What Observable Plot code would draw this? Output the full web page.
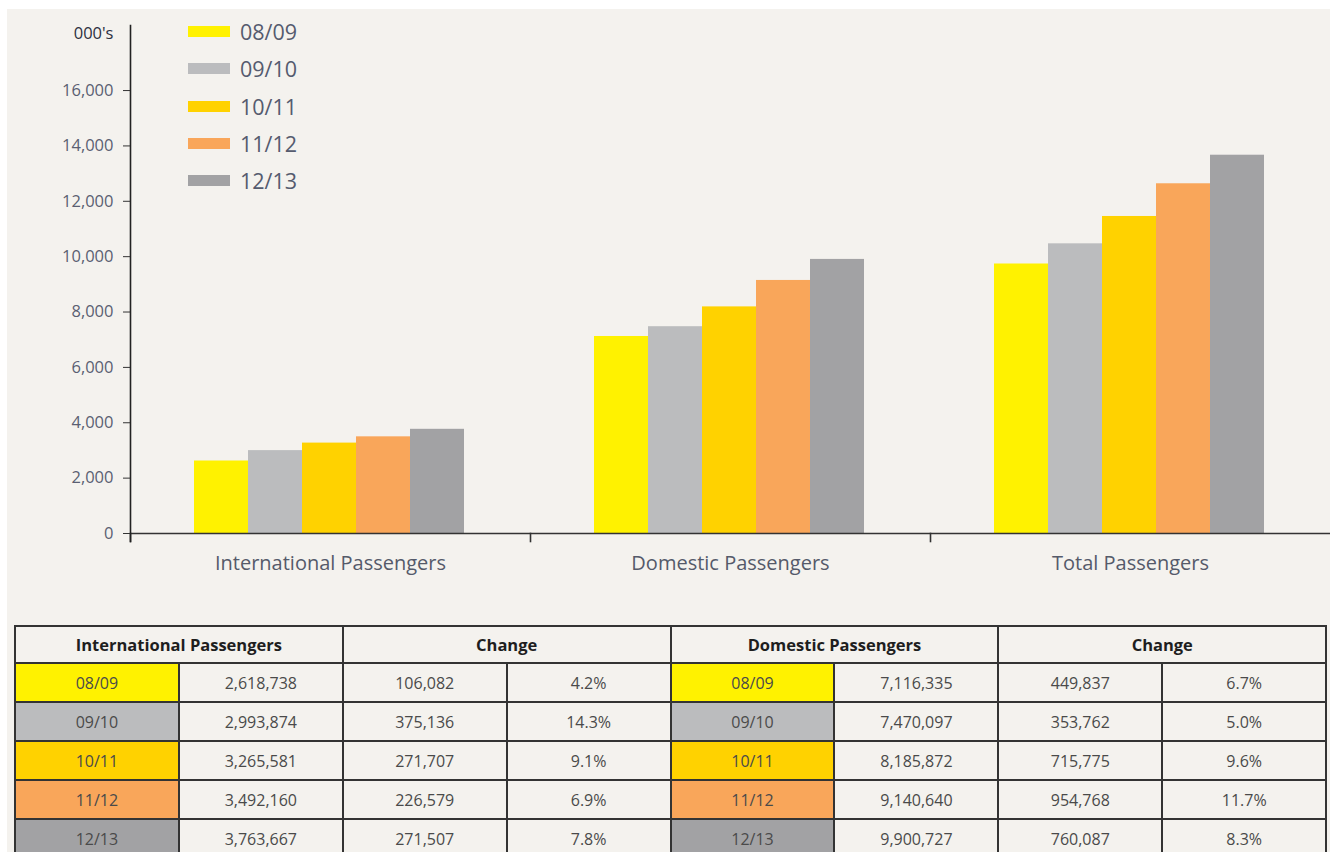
<!DOCTYPE html>
<html><head><meta charset="utf-8">
<script src="https://cdn.jsdelivr.net/npm/d3@7"></script>
<script src="https://cdn.jsdelivr.net/npm/@observablehq/plot@0.6"></script>
<style>
body{margin:0;background:#fff;font-family:"Open Sans",sans-serif;}
#page{position:absolute;left:7px;top:9px;width:1323px;height:843px;background:#f4f2ee;overflow:hidden;}
#chart{position:absolute;left:0;top:0;}
#legend{position:absolute;left:181px;top:4px;}
#legend .lg-swatch{height:37.3px;padding:0;margin:0;font-size:21.5px;color:#555b6e;font-family:"Open Sans",sans-serif;display:flex;align-items:center;}
#legend .lg-swatch svg{margin-right:10px;}
#legend .lg-swatches{margin:0;font-family:"Open Sans",sans-serif;}
table{position:absolute;left:7px;top:616px;border-collapse:collapse;table-layout:fixed;width:1311px;font-family:"Open Sans",sans-serif;}
td,th{border:2px solid #333;text-align:center;padding:0;}
th{height:35px;font-size:16.5px;font-weight:700;color:#1e1e1e;line-height:20px;}
td{height:37px;font-size:16px;color:#4a4a4a;}
</style></head>
<body>
<div id="page">
  <div id="chart"></div>
  <div id="legend"></div>
  <table id="tbl"></table>
</div>
<script>
const categories = ["International Passengers", "Domestic Passengers", "Total Passengers"];
const seasons = ["08/09", "09/10", "10/11", "11/12", "12/13"];
const colors = ["#fff200", "#bbbcbe", "#ffd200", "#f9a65a", "#a2a2a4"];
const intlPassengers = [2618738, 2993874, 3265581, 3492160, 3763667];
const intlChange = [106082, 375136, 271707, 226579, 271507];
const intlPct = [4.2, 14.3, 9.1, 6.9, 7.8];
const domPassengers = [7116335, 7470097, 8185872, 9140640, 9900727];
const domChange = [449837, 353762, 715775, 954768, 760087];
const domPct = [6.7, 5.0, 9.6, 11.7, 8.3];
const yTicks = [0, 2000, 4000, 6000, 8000, 10000, 12000, 14000, 16000];
const unitLabel = "000's";
const tableHeaders = ["International Passengers", "Change", "Domestic Passengers", "Change"];

// rows in thousands
const rows = [];
seasons.forEach((s, i) => {
  rows.push({category: categories[0], season: s, value: intlPassengers[i] / 1000});
  rows.push({category: categories[1], season: s, value: domPassengers[i] / 1000});
  rows.push({category: categories[2], season: s, value: (intlPassengers[i] + domPassengers[i]) / 1000});
});

const W = 1323, H = 600, mT = 16, mB = 76, mL = 123, mR = 0;
const yTop = 18350, unitY = 18050;

const chart = Plot.plot({
  width: W, height: H, marginTop: mT, marginBottom: mB, marginLeft: mL, marginRight: mR,
  style: {background: "transparent", fontFamily: "Open Sans, sans-serif", color: "#555b6e"},
  fx: {domain: categories, paddingInner: 0, paddingOuter: 0, label: null},
  x: {domain: seasons, paddingInner: 0, paddingOuter: 1.2, align: 0.49, axis: null},
  y: {domain: [0, yTop], axis: null},
  color: {domain: seasons, range: colors},
  marks: [
    Plot.barY(rows, {fx: "category", x: "season", y: "value", fill: "season"}),
    Plot.ruleY([0], {stroke: "#333", strokeWidth: 1.6}),
    Plot.frame({anchor: "left", insetTop: H - mT - mB, insetBottom: -8, stroke: "#333", strokeWidth: 1.6}),
    Plot.frame({anchor: "left", insetBottom: -8, facetAnchor: "left", stroke: "#222", strokeWidth: 1.6}),
    Plot.axisY({ticks: yTicks, tickFormat: d3.format(","), tickSize: 7, tickPadding: 10, fontSize: 16.5, label: null, stroke: "#333", fill: "#5a5f72"}),
    Plot.axisFx({anchor: "bottom", tickSize: 0, tickPadding: 22, fontSize: 20, label: null, fill: "#555a6a"}),
    Plot.text([unitLabel], {text: d => d, y: () => unitY, frameAnchor: "left", dx: -17, textAnchor: "end", facetAnchor: "left", fontSize: 16.5, fill: "#2d3040"})
  ]
});
document.getElementById("chart").appendChild(chart);

const legend = chart.legend("color", {legend: "swatches", columns: 1, swatchWidth: 42, swatchHeight: 11, className: "lg"});
document.getElementById("legend").appendChild(legend);

// table
const fmt = d3.format(",");
const tbl = document.getElementById("tbl");
const colgroup = document.createElement("colgroup");
for (let i = 0; i < 8; i++) { const c = document.createElement("col"); c.style.width = "163.9px"; colgroup.appendChild(c); }
tbl.appendChild(colgroup);
const hr = document.createElement("tr");
tableHeaders.forEach(h => { const th = document.createElement("th"); th.colSpan = 2; th.textContent = h; hr.appendChild(th); });
tbl.appendChild(hr);
seasons.forEach((s, i) => {
  const tr = document.createElement("tr");
  const cells = [
    [s, colors[i]], [fmt(intlPassengers[i])], [fmt(intlChange[i])], [intlPct[i].toFixed(1) + "%"],
    [s, colors[i]], [fmt(domPassengers[i])], [fmt(domChange[i])], [domPct[i].toFixed(1) + "%"]
  ];
  cells.forEach(([t, bg]) => { const td = document.createElement("td"); td.textContent = t; if (bg) td.style.background = bg; tr.appendChild(td); });
  tbl.appendChild(tr);
});
</script>
</body></html>
